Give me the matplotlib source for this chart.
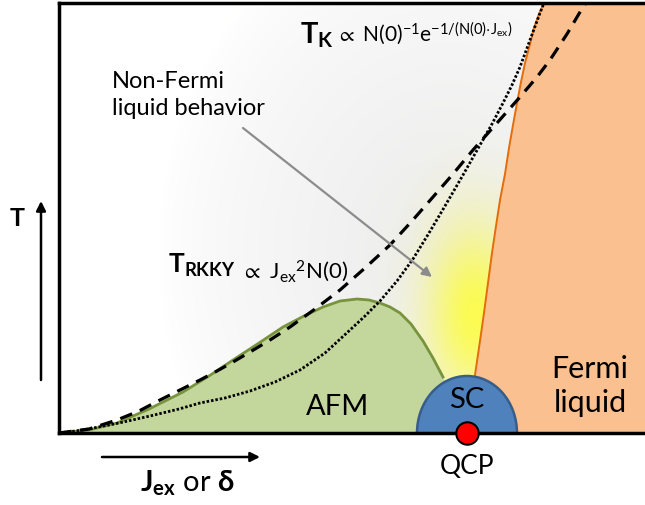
import numpy as np
import matplotlib
matplotlib.use("Agg")
import matplotlib.pyplot as plt
from matplotlib.patches import Ellipse

plt.rcParams["font.family"] = ["Lato", "DejaVu Sans"]
plt.rcParams["mathtext.fontset"] = "custom"
plt.rcParams["mathtext.rm"] = "Lato"
plt.rcParams["mathtext.it"] = "Lato"
plt.rcParams["mathtext.bf"] = "Lato:bold"
plt.rcParams["mathtext.fallback"] = "stixsans"

# chart units: J (exchange) along x, T along y, arbitrary scale
rkky_j = [0, 30, 58, 80, 101, 121, 141, 158, 174, 191, 211, 231, 256, 281, 306,
          331, 353, 374, 394, 414, 438, 461, 478, 491, 508, 524, 527]
rkky_t = [0, 4, 13, 22, 33, 43, 53, 62, 71, 81, 93, 106, 124, 143, 165,
          188, 212, 236, 259, 283, 310, 336, 356, 373, 399, 426, 430]

kondo_j = [0, 24, 60, 91, 120, 141, 166, 191, 216, 241, 266, 291, 306, 321, 338,
           354, 370, 386, 404, 421, 433, 444, 453, 461, 471, 481, 485]
kondo_t = [0, 3, 10, 17, 24, 30, 35, 42, 51, 63, 80, 103, 117, 132, 152,
           174, 200, 227, 258, 288, 309, 330, 348, 366, 393, 420, 430]

afm_j = [0, 30, 58, 90, 124, 150, 174, 200, 224, 245, 264, 281, 298, 310, 321,
         331, 341, 352, 364, 374, 384, 392, 398]
afm_t = [0, 3, 10, 24, 41, 57, 73, 90, 106, 117, 126, 132, 134, 133, 130,
         126, 120, 109, 92, 75, 56, 35, 0]

fl_j = [416, 421, 425, 429, 433, 437, 441, 446, 450, 454, 458, 462, 466, 471, 475, 480, 485]
fl_t = [58, 92, 120, 150, 180, 207, 233, 259, 285, 308, 330, 351, 370, 389, 405, 419, 430]

qcp_j = 408
sc_halfwidth = 50
sc_height = 57

j_max, t_max = 586, 430

fig = plt.figure(figsize=(6.45, 5.05), dpi=100)
ax = fig.add_axes([59 / 645, 72 / 505, 586 / 645, 430 / 505])
ax.set_xlim(0, j_max)
ax.set_ylim(0, t_max)
ax.set_xticks([])
ax.set_yticks([])
for side in ["left", "top", "bottom"]:
    ax.spines[side].set_linewidth(2.5)
    ax.spines[side].set_color("black")
ax.spines["right"].set_visible(False)

# soft grey background with a yellow glow above the QCP
gj, gt = np.meshgrid(np.linspace(0, j_max, 400), np.linspace(0, t_max, 300))
r = np.sqrt((gj - 390) ** 2 + ((gt - 180) / 1.2) ** 2)
grey = 1 - 0.075 * np.clip(1 - r / 290, 0, 1) ** 0.7
glow = np.exp(-((gj - 416) / 48) ** 2 - ((gt - 118) / 90) ** 2) * 0.78
img = np.zeros(gj.shape + (3,))
img[..., 0] = grey * (1 - glow) + 1.0 * glow
img[..., 1] = grey * (1 - glow) + 1.0 * glow
img[..., 2] = grey * (1 - glow) + 0.15 * glow
ax.imshow(img, extent=(0, j_max, 0, t_max), origin="lower", aspect="auto", zorder=0)

# AFM dome
ax.fill(afm_j, afm_t, facecolor="#c3d69b", edgecolor="none", zorder=1)
ax.plot(afm_j[:-2], afm_t[:-2], color="#77933c", lw=2, zorder=1.2)

# Fermi liquid region
ax.fill([fl_j[0]] + fl_j + [j_max, j_max], [0] + fl_t + [t_max, 0],
        facecolor="#fac090", edgecolor="none", zorder=1)
ax.plot(fl_j, fl_t, color="#e46c0a", lw=1.4, zorder=1.2)

# T_RKKY and T_K
ax.plot(rkky_j, rkky_t, color="black", lw=2.3, dashes=(4, 2.6), zorder=2)
ax.plot(kondo_j, kondo_t, color="black", lw=2.0, dashes=(0.9, 0.7), zorder=2)

# SC dome and QCP
ax.add_patch(Ellipse((qcp_j, 0), 2 * sc_halfwidth, 2 * sc_height,
                     facecolor="#4f81bd", edgecolor="#385d8a", lw=1.8, zorder=2.3))
ax.scatter([qcp_j], [0], s=260, color="#ff0000", edgecolors="black",
           linewidths=1.5, zorder=5, clip_on=False)

# labels
ax.text(53, 362, "Non-Fermi\nliquid behavior", fontsize=17, ha="left", va="top",
        linespacing=1.38, zorder=4)
ax.annotate("", xy=(373, 156), xytext=(184, 305),
            arrowprops=dict(arrowstyle="-|>", color="#8c8c8c", lw=1.6,
                            mutation_scale=14, shrinkA=0, shrinkB=0), zorder=4)

ax.text(241, 390, r"$\mathbf{T_K}$", fontsize=21, ha="left", va="baseline", zorder=4)
ax.text(277, 391, r"$\propto\ \mathrm{N(0)^{-1}e^{-1/(N(0){\cdot}J_{ex})}}$",
        fontsize=15, ha="left", va="baseline", zorder=4)

ax.text(109, 160, r"$\mathbf{T_{RKKY}}$", fontsize=19, ha="left", va="baseline", zorder=4)
ax.text(182, 155, r"$\propto\ \mathrm{J_{ex}{}^{2}N(0)}$",
        fontsize=16, ha="left", va="baseline", zorder=4)

ax.text(279, 26, "AFM", fontsize=21, ha="center", va="center", zorder=4)
ax.text(qcp_j, 33, "SC", fontsize=21, ha="center", va="center", zorder=4)
ax.text(531, 47, "Fermi\nliquid", fontsize=22, ha="center", va="center",
        linespacing=1.3, zorder=4)
ax.text(qcp_j, -34, "QCP", fontsize=19, ha="center", va="center", clip_on=False)

# axis arrows
ax.annotate("", xy=(-18, 232), xytext=(-18, 53), xycoords="data",
            arrowprops=dict(arrowstyle="-|>", color="black", lw=1.8,
                            mutation_scale=14, shrinkA=0, shrinkB=0),
            annotation_clip=False)
ax.text(-42, 214, "T", fontsize=18, fontweight="bold", ha="center", va="center")
ax.annotate("", xy=(201, -24), xytext=(43, -24), xycoords="data",
            arrowprops=dict(arrowstyle="-|>", color="black", lw=1.8,
                            mutation_scale=14, shrinkA=0, shrinkB=0),
            annotation_clip=False)
ax.text(81, -58, r"$\mathbf{J_{ex}}$ or $\mathbf{\delta}$", fontsize=21,
        ha="left", va="baseline")

fig.savefig("out.png", dpi=100)
